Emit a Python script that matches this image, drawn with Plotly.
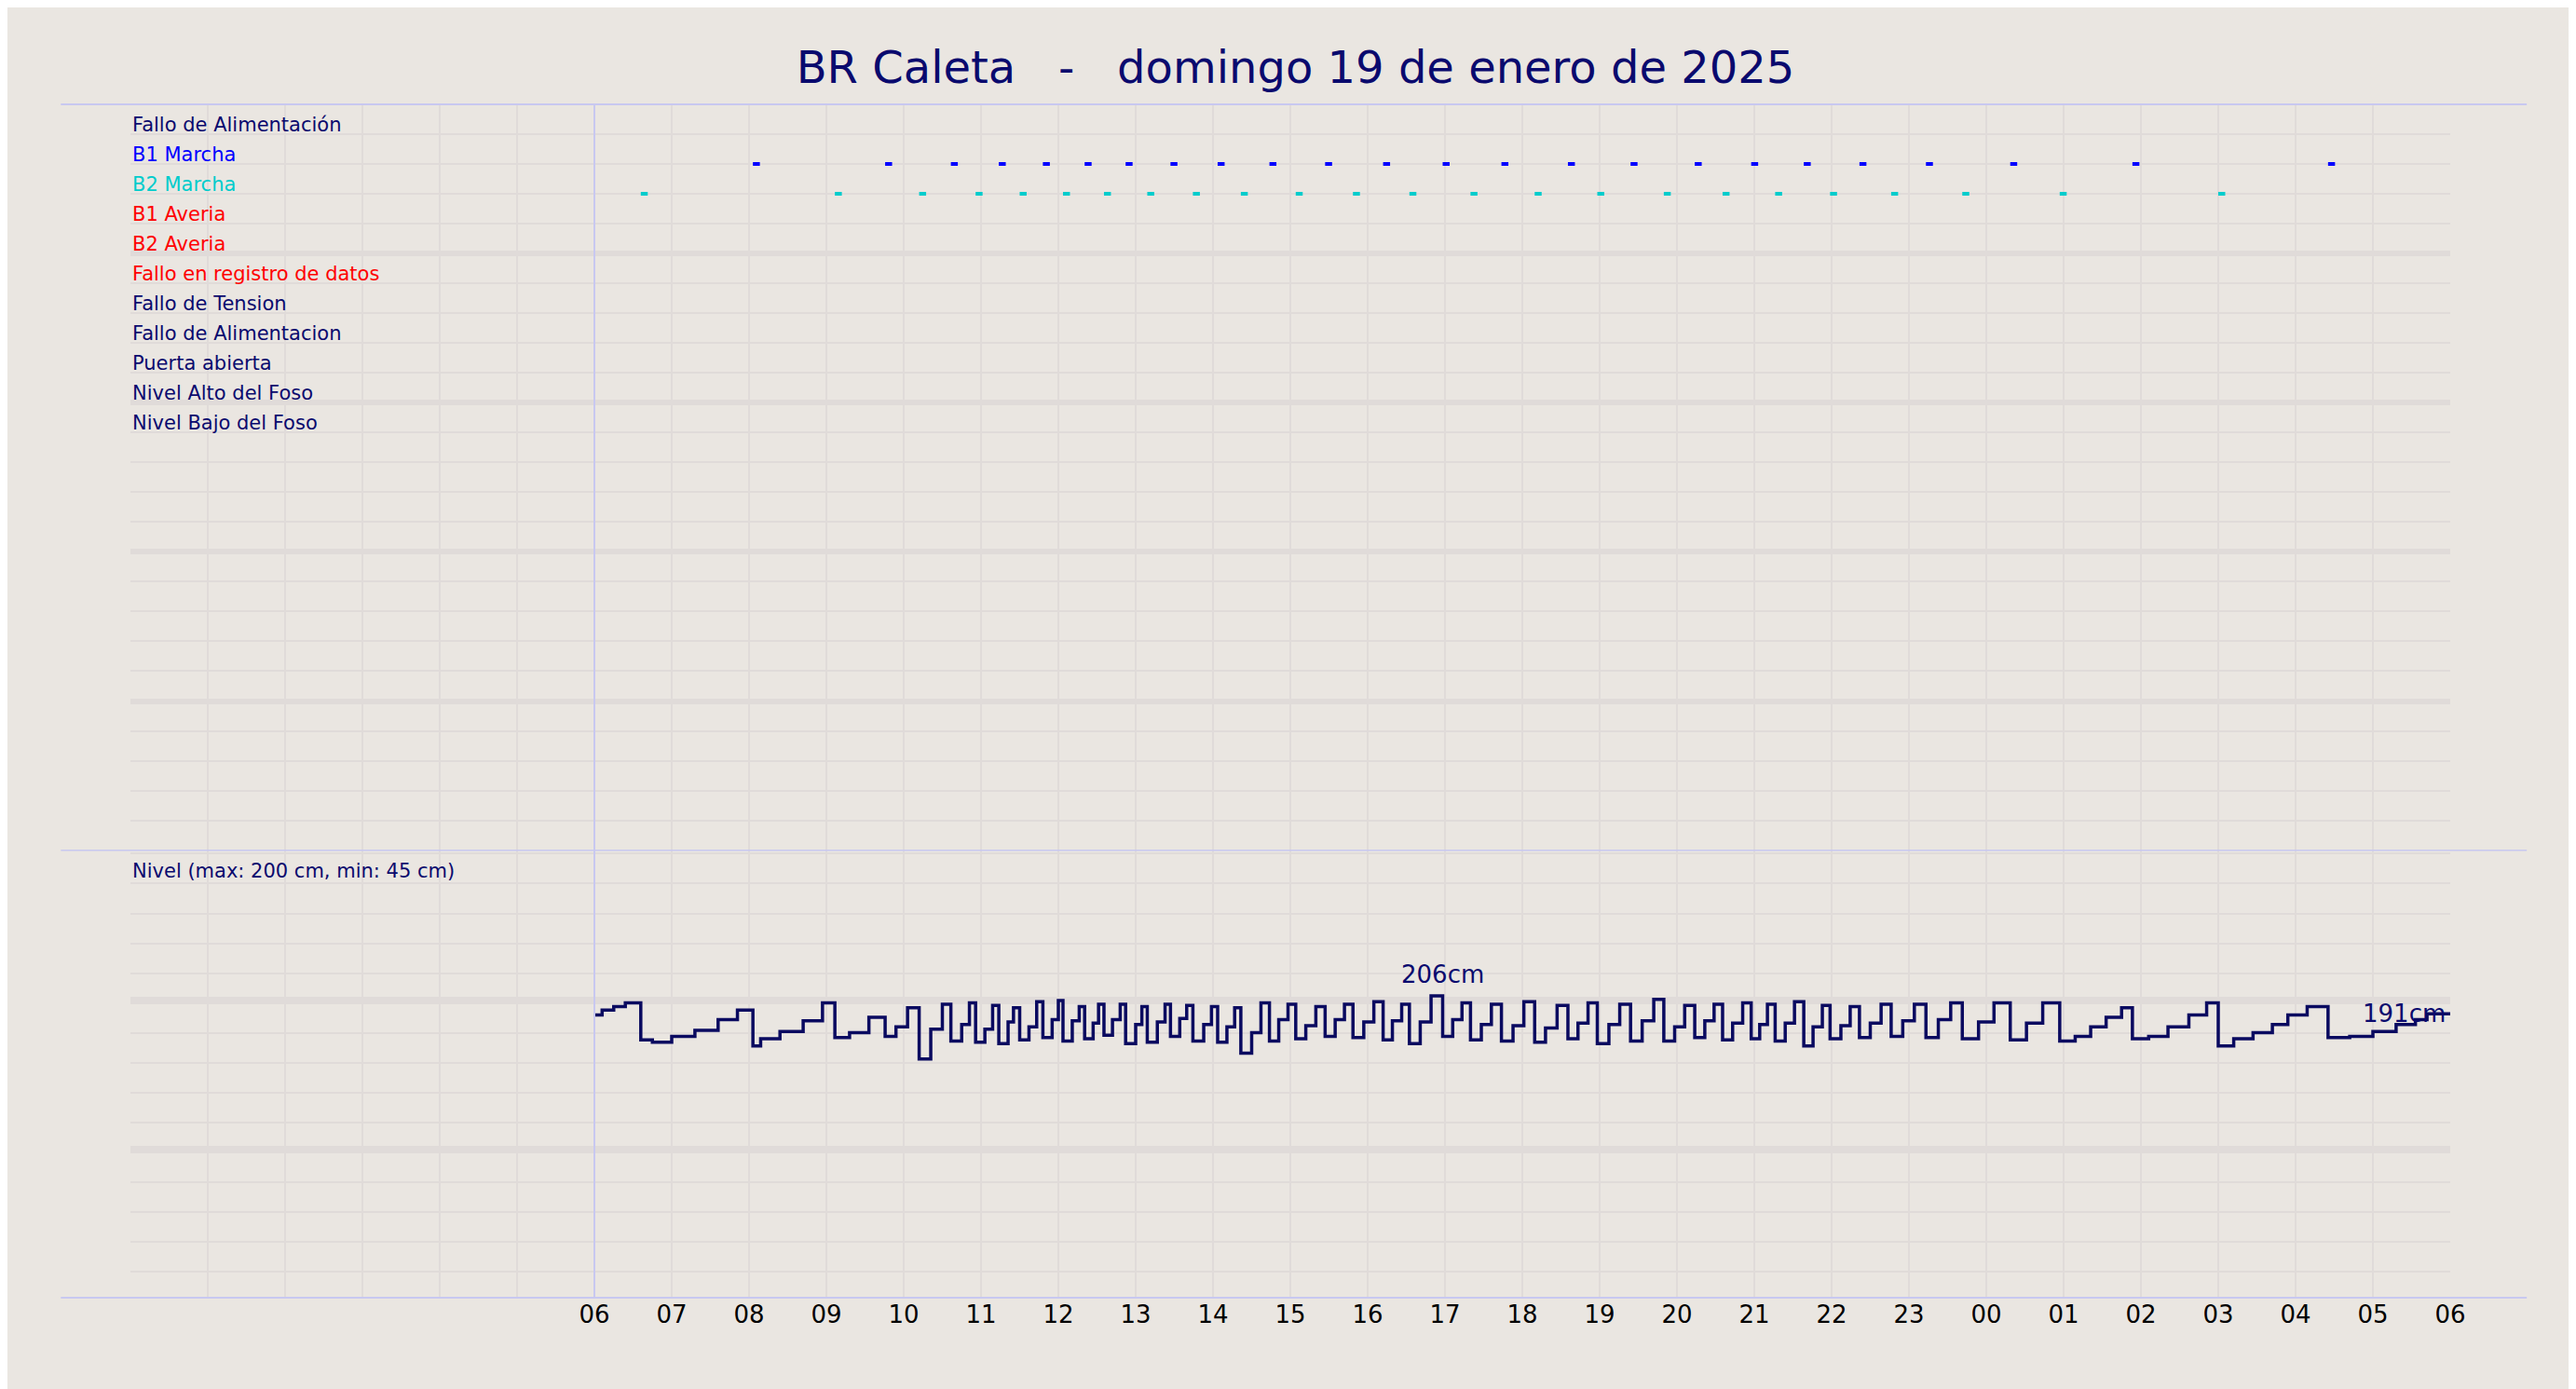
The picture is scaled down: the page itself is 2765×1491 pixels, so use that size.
import plotly.graph_objects as go
from plotly.subplots import make_subplots

# --- data ---
row_labels = ["Fallo de Alimentación", "B1 Marcha", "B2 Marcha", "B1 Averia", "B2 Averia",
              "Fallo en registro de datos", "Fallo de Tension", "Fallo de Alimentacion",
              "Puerta abierta", "Nivel Alto del Foso", "Nivel Bajo del Foso"]
row_colors = ["#0a0a6e", "#0000ff", "#00cccc", "#ff0000", "#ff0000", "#ff0000",
              "#0a0a6e", "#0a0a6e", "#0a0a6e", "#0a0a6e", "#0a0a6e"]

# pump start times (hours since 00:00 of the 19th)
b1_times = [8.05, 9.76, 10.61, 11.23, 11.80, 12.34, 12.87, 13.45, 14.06, 14.73, 15.45, 16.20,
            16.97, 17.73, 18.59, 19.40, 20.23, 20.96, 21.64, 22.36, 23.22, 24.31, 25.89, 28.42]
b2_times = [6.60, 9.11, 10.20, 10.93, 11.50, 12.06, 12.59, 13.15, 13.74, 14.36, 15.07, 15.81,
            16.54, 17.33, 18.16, 18.97, 19.83, 20.59, 21.27, 21.98, 22.77, 23.69, 24.95, 27.00]

lvl_t = [6.00, 6.10, 6.25, 6.40, 6.60, 6.75, 7.00, 7.30, 7.60, 7.85,
         8.05, 8.15, 8.40, 8.70, 8.95, 9.11, 9.30, 9.55, 9.76, 9.90,
         10.05, 10.20, 10.35, 10.50, 10.61, 10.75, 10.85, 10.93, 11.05, 11.15,
         11.23, 11.35, 11.42, 11.50, 11.62, 11.72, 11.80, 11.92, 12.00, 12.06,
         12.18, 12.27, 12.34, 12.45, 12.52, 12.59, 12.70, 12.80, 12.87, 13.00,
         13.08, 13.15, 13.28, 13.38, 13.45, 13.57, 13.66, 13.74, 13.88, 13.98,
         14.06, 14.18, 14.28, 14.36, 14.50, 14.62, 14.73, 14.85, 14.97, 15.07,
         15.20, 15.33, 15.45, 15.58, 15.70, 15.81, 15.95, 16.08, 16.20, 16.32,
         16.44, 16.54, 16.68, 16.82, 16.97, 17.10, 17.22, 17.33, 17.47, 17.60,
         17.73, 17.88, 18.02, 18.16, 18.30, 18.45, 18.59, 18.72, 18.85, 18.97,
         19.12, 19.26, 19.40, 19.55, 19.70, 19.83, 19.97, 20.10, 20.23, 20.36,
         20.48, 20.59, 20.72, 20.85, 20.96, 21.07, 21.17, 21.27, 21.40, 21.52,
         21.64, 21.76, 21.88, 21.98, 22.12, 22.24, 22.36, 22.50, 22.64, 22.77,
         22.92, 23.07, 23.22, 23.38, 23.54, 23.69, 23.90, 24.10, 24.31, 24.52,
         24.73, 24.95, 25.15, 25.35, 25.55, 25.75, 25.89, 26.10, 26.35, 26.62,
         26.85, 27.00, 27.20, 27.45, 27.70, 27.90, 28.15, 28.42, 28.70, 29.00,
         29.30, 29.55, 29.70, 30.00]
lvl_cm = [190, 194, 197, 200, 169, 167, 172, 177, 186, 194,
          164, 170, 176, 185, 200, 171, 175, 188, 172, 180,
          196, 153, 178, 199, 168, 182, 200, 167, 178, 198,
          166, 184, 196, 169, 180, 201, 171, 186, 202, 168,
          185, 197, 170, 183, 199, 173, 186, 199, 166, 182,
          197, 167, 184, 199, 172, 187, 198, 168, 182, 197,
          167, 180, 196, 158, 175, 200, 168, 186, 199, 170,
          181, 197, 172, 186, 199, 171, 184, 201, 169, 185,
          199, 166, 184, 206, 172, 186, 200, 169, 182, 199,
          168, 181, 201, 167, 179, 198, 170, 183, 200, 166,
          182, 199, 168, 185, 203, 168, 180, 198, 171, 185,
          199, 169, 183, 200, 170, 182, 199, 168, 183, 201,
          164, 180, 198, 170, 181, 197, 171, 183, 199, 172,
          185, 199, 171, 186, 200, 170, 184, 200, 169, 183,
          200, 168, 172, 180, 188, 196, 170, 172, 180, 190,
          200, 164, 170, 175, 182, 190, 197, 171, 172, 176,
          182, 186, 191, 191]

fig = make_subplots(rows=2, cols=1, shared_xaxes=True, vertical_spacing=0,
                    row_heights=[0.625, 0.375])

def dashes(times, row, color):
    xs, ys = [], []
    for t in times:
        xs += [t, t + 0.09, None]
        ys += [row, row, None]
    fig.add_trace(go.Scatter(x=xs, y=ys, mode="lines", line=dict(color=color, width=4),
                             hoverinfo="skip"), row=1, col=1)

dashes(b1_times, 1, "#0000ff")
dashes(b2_times, 2, "#00cccc")

fig.add_trace(go.Scatter(x=lvl_t, y=lvl_cm, mode="lines", line_shape="hv",
                         line=dict(color="#0a0a60", width=3.5)), row=2, col=1)

navy = "#0a0a6e"
font = "DejaVu Sans"
for i, (lab, col) in enumerate(zip(row_labels, row_colors)):
    fig.add_annotation(x=0, y=i, xref="x", yref="y", text=lab, showarrow=False,
                       xanchor="left", yanchor="bottom", font=dict(size=21, color=col), yshift=-4)
fig.add_annotation(x=0, y=328, xref="x2", yref="y2", text="Nivel (max: 200 cm, min: 45 cm)",
                   showarrow=False, xanchor="left", yanchor="top", yshift=-8,
                   font=dict(size=21, color=navy))
fig.add_annotation(x=16.97, y=206, xref="x2", yref="y2", text="206cm", showarrow=False,
                   yanchor="bottom", yshift=6, font=dict(size=26, color=navy))
fig.add_annotation(x=29.4, y=191, xref="x2", yref="y2", text="191cm", showarrow=False,
                   font=dict(size=26, color=navy))

hours = [6 + i for i in range(25)]
hour_txt = ["%02d" % (h % 24) for h in hours]
grid = "#e0dbd9"
xcommon = dict(range=[0, 30], showgrid=True, gridcolor=grid, gridwidth=2,
               tickvals=hours, ticktext=hour_txt, zeroline=False,
               minor=dict(dtick=1, tick0=0, showgrid=True, gridcolor=grid, gridwidth=2))
fig.update_xaxes(**xcommon)
fig.update_xaxes(showticklabels=False, row=1, col=1)
fig.update_xaxes(tickfont=dict(size=26, color="black", family=font), row=2, col=1)

fig.update_yaxes(range=[24, -1], tick0=-1, dtick=5, showgrid=True, gridcolor=grid, gridwidth=6,
                 showticklabels=False, zeroline=False,
                 minor=dict(dtick=1, showgrid=True, gridcolor=grid, gridwidth=2),
                 row=1, col=1)
fig.update_yaxes(range=[-47, 328], tick0=-47, dtick=125, showgrid=True, gridcolor=grid,
                 gridwidth=6, showticklabels=False, zeroline=False,
                 minor=dict(dtick=25, showgrid=True, gridcolor=grid, gridwidth=2),
                 row=2, col=1)

line_col = "#c8c8f0"
fig.add_shape(type="line", xref="paper", yref="paper", x0=-0.03, x1=1.033, y0=1, y1=1,
              line=dict(color=line_col, width=2))
fig.add_shape(type="line", xref="paper", yref="paper", x0=-0.03, x1=1.033, y0=0, y1=0,
              line=dict(color=line_col, width=2))
fig.add_shape(type="line", xref="x", yref="paper", x0=6, x1=6, y0=0, y1=1,
              line=dict(color=line_col, width=2))
fig.add_shape(type="line", xref="paper", yref="paper", x0=-0.03, x1=1.033, y0=0.375, y1=0.375,
              line=dict(color=line_col, width=1.5))

fig.update_layout(
    width=2765, height=1491,
    paper_bgcolor="#eae6e1", plot_bgcolor="#eae6e1",
    showlegend=False,
    font=dict(family=font, color=navy),
    title=dict(text="BR Caleta   -   domingo 19 de enero de 2025", x=0.5, y=0.968,
               xanchor="center", font=dict(size=48, color=navy, family=font)),
    margin=dict(l=132, r=143, t=104, b=106),
)

fig.write_html("out.html")
